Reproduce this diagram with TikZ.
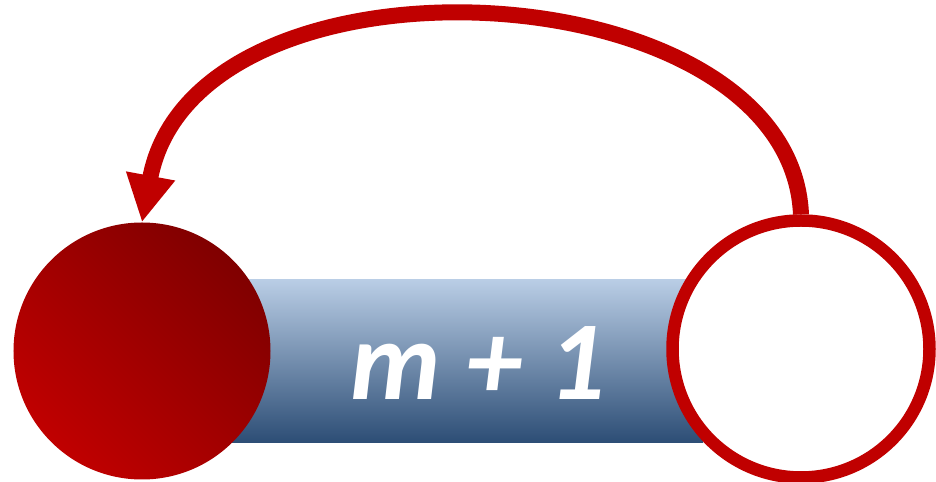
\documentclass[tikz,border=0pt]{standalone}
\usepackage{fontspec}
\setsansfont{Carlito}
\usetikzlibrary{
  arrows.meta,
  positioning,
  shapes.geometric
}
\definecolor{loopRed}{RGB}{192,0,0}
\definecolor{loopDark}{RGB}{128,0,0}
\definecolor{loopTop}{RGB}{185,205,229}
\definecolor{loopMid}{RGB}{79,129,189}
\definecolor{loopBot}{RGB}{44,77,117}
\tikzset{
  loopbar/.style={
    rectangle,
    draw=none,
    inner sep=0pt,
    minimum width=96.6mm,
    minimum height=32.6mm,
    top color=loopTop,
    middle color=loopMid,
    bottom color=loopBot
  },
  fullnode/.style={
    circle,
    draw=none,
    inner sep=0pt,
    minimum size=51.4mm,
    top color=loopDark,
    bottom color=loopRed,
    shading angle=-45
  },
  emptynode/.style={
    circle,
    draw=loopRed,
    line width=2.5mm,
    fill=white,
    inner sep=0pt,
    minimum size=51.4mm
  },
  looptext/.style={
    text=white,
    inner sep=0pt,
    font=\sffamily\bfseries\itshape\fontsize{64}{64}\selectfont
  },
  looparrow/.style={
    -{Triangle[length=9.4mm,width=9.4mm]},
    line width=3.2mm,
    draw=loopRed
  }
}
\begin{document}
\begin{tikzpicture}
  \useasboundingbox (0,0) rectangle (18.72,9.64);

  \node[loopbar] (bar) at (9.23,2.41) {};
  \node[looptext] (count) at (9.56,2.37) {m + 1};
  \node[fullnode] (full) at (2.84,2.62) {};
  \node[emptynode] (empty) at (16.02,2.66) {};

  % back from the empty node to the full one
  \draw[looparrow] (empty.north) .. controls (15.80,10.30) and (3.90,10.90) .. (full.north);
\end{tikzpicture}
\end{document}
